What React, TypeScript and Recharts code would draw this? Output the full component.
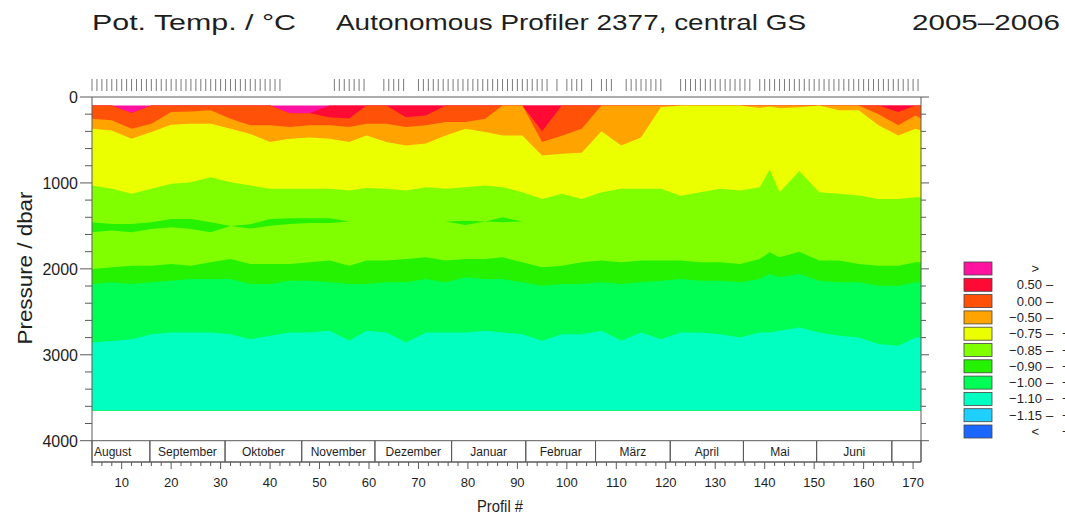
import { Area, ComposedChart, ReferenceArea, XAxis, YAxis } from "recharts";

const FONT = "'Liberation Sans', Arial, sans-serif";
const AXIS_COLOR = "#5a5a5a";
const TEXT_COLOR = "#1e1e1e";

// plot frame (page pixels)
const PLOT_LEFT = 92;
const PLOT_RIGHT = 921;
const PLOT_TOP = 97;
const PLOT_BOTTOM = 462;

const X_MIN = 4;
const X_MAX = 171.6;
const Y_MAX = 4248; // bottom of month band
const DATA_TOP = 100;
const DATA_BOTTOM = 3650;

// profile numbers where the boundaries were read
const PROFILES = [4, 8, 12, 16, 20, 24, 28, 32, 36, 40, 44, 48, 52, 56,
  59.5, 63.5, 67.5, 71.5, 75.5, 79.5, 83.5,
  87, 91, 95, 99, 103, 107, 111, 115, 119, 123, 127, 131, 135, 139,
  141, 143,
  147, 151, 155, 159, 163, 167,
  170.5, 171.6];

// depth (dbar) of the lower edge of each temperature class
const PINK_BOTTOM = [100, 100, 185, 100, 100, 100, 100, 100, 100, 100, 190, 190, 100, 100,
  100, 100, 100, 100, 100, 100, 100,
  100, 100, 100, 100, 100, 100, 100, 100, 100, 100, 100, 100, 100, 100,
  100, 100,
  100, 100, 100, 100, 100, 100,
  100, 100];
const RED_BOTTOM = [100, 100, 185, 100, 100, 100, 100, 100, 100, 100, 190, 190, 235, 250,
  100, 100, 235, 215, 100, 100, 100,
  100, 100, 400, 100, 100, 100, 100, 100, 100, 100, 100, 100, 100, 100,
  100, 100,
  100, 100, 100, 100, 100, 175,
  100, 100];
const ORED_BOTTOM = [253, 272, 370, 311, 175, 170, 155, 253, 330, 330, 350, 330, 330, 350,
  310, 311, 350, 330, 292, 292, 253,
  100, 100, 525, 450, 370, 100, 100, 100, 100, 100, 100, 100, 100, 100,
  100, 100,
  100, 100, 100, 100, 200, 330,
  214, 250];
const ORANGE_BOTTOM = [370, 389, 486, 408, 323, 310, 310, 370, 430, 525, 486, 470, 486, 525,
  447, 525, 564, 540, 447, 370, 408,
  447, 447, 680, 660, 650, 400, 564, 470, 120, 100, 100, 100, 100, 128,
  110, 130,
  120, 100, 155, 155, 330, 447,
  370, 390];
const YELLOW_BOTTOM = [1030, 1069, 1127, 1069, 1010, 991, 933, 991, 1030, 1069, 1069, 1069, 1069, 1088,
  1060, 1069, 1088, 1050, 1069, 1050, 1030,
  1050, 1108, 1186, 1127, 1186, 1108, 1069, 1069, 1069, 1150, 1108, 1069, 1088, 1050,
  845, 1108,
  860, 1108, 1127, 1147, 1186, 1186,
  1166, 1166];
const PATCH_TOP = [1458, 1477, 1477, 1458, 1419, 1419, 1458, 1500, 1480, 1419, 1411, 1411, 1411, 1450,
  1450, 1450, 1450, 1450, 1450, 1440, 1450,
  1400, 1450, 1450, 1450, 1450, 1450, 1450, 1450, 1450, 1450, 1450, 1450, 1450, 1450,
  1450, 1450,
  1450, 1450, 1450, 1450, 1450, 1450,
  1450, 1450];
const PATCH_BOTTOM = [1574, 1555, 1574, 1535, 1516, 1535, 1574, 1500, 1530, 1497, 1477, 1466, 1466, 1450,
  1450, 1450, 1450, 1450, 1450, 1490, 1450,
  1458, 1450, 1450, 1450, 1450, 1450, 1450, 1450, 1450, 1450, 1450, 1450, 1450, 1450,
  1450, 1450,
  1450, 1450, 1450, 1450, 1450, 1450,
  1450, 1450];
const LIME_BOTTOM = [2002, 1982, 1963, 1963, 1943, 1963, 1924, 1885, 1943, 1943, 1943, 1924, 1904, 1963,
  1904, 1904, 1885, 1866, 1904, 1885, 1885,
  1866, 1924, 1982, 1963, 1924, 1904, 1924, 1904, 1904, 1904, 1924, 1924, 1943, 1885,
  1808, 1866,
  1800, 1904, 1904, 1943, 1963, 1963,
  1924, 1924];
const GREEN_BOTTOM = [2177, 2157, 2177, 2157, 2138, 2118, 2118, 2118, 2177, 2177, 2138, 2138, 2157, 2177,
  2177, 2157, 2157, 2118, 2157, 2099, 2118,
  2118, 2157, 2196, 2177, 2177, 2157, 2177, 2157, 2138, 2118, 2138, 2138, 2157, 2118,
  2060, 2099,
  2060, 2138, 2157, 2157, 2196, 2196,
  2157, 2157];
const SPRING_BOTTOM = [2857, 2840, 2818, 2760, 2740, 2740, 2740, 2760, 2818, 2779, 2740, 2740, 2721, 2837,
  2721, 2740, 2857, 2740, 2740, 2740, 2721,
  2740, 2760, 2837, 2760, 2760, 2721, 2837, 2740, 2818, 2740, 2740, 2760, 2798, 2740,
  2740, 2721,
  2682, 2740, 2779, 2798, 2876, 2896,
  2798, 2798];

// profiles that exist (markers above the plot)
const PROFILE_RUNS: [number, number][] = [[4, 42], [53, 59], [63, 67], [70, 96], [98, 98], [100, 103],
  [105, 105], [107, 109], [112, 119], [123, 137], [139, 171]];

const MONTH_NAMES = ["August", "September", "Oktober", "November", "Dezember", "Januar",
  "Februar", "März", "April", "Mai", "Juni", ""];
const MONTH_STARTS = [4, 15.7, 30.9, 46.4, 61.2, 76.7, 91.7, 105.8, 120.9, 135.7, 150.5, 165.7];

const Y_TICKS = [0, 200, 400, 600, 800, 1000, 1200, 1400, 1600, 1800, 2000, 2200, 2400, 2600,
  2800, 3000, 3200, 3400, 3600, 3800, 4000];

const C = {
  pink: "#ff12a0", red: "#ff0a35", ored: "#ff5208", orange: "#ffa300", yellow: "#ebff00",
  lime: "#80ff00", green: "#25f200", spring: "#00ff55", aqua: "#00ffc0", cyan: "#1ecfff", blue: "#1a66ff",
};

const LEGEND_COLORS = [C.pink, C.red, C.ored, C.orange, C.yellow, C.lime, C.green, C.spring, C.aqua, C.cyan, C.blue];
const LEGEND_LOWER = [">", "0.50", "0.00", "−0.50", "−0.75", "−0.85", "−0.90", "−1.00", "−1.10", "−1.15", "<"];
const LEGEND_UPPER = ["1.00", "1.00", "0.50", "0.00", "−0.50", "−0.75", "−0.85", "−0.90", "−1.00", "−1.10", "−1.15"];

const X_TICKS: number[] = [];
for (let p = 4; p <= 170; p += 2) X_TICKS.push(p);

const PRESENT: number[] = [];
PROFILE_RUNS.forEach(([a, b]) => { for (let p = a; p <= b; p++) PRESENT.push(p); });

const rows = PROFILES.map((p, i) => ({
  p,
  pink: [DATA_TOP, DATA_BOTTOM],
  red: [PINK_BOTTOM[i], DATA_BOTTOM],
  ored: [RED_BOTTOM[i], DATA_BOTTOM],
  orange: [ORED_BOTTOM[i], DATA_BOTTOM],
  yellow: [ORANGE_BOTTOM[i], DATA_BOTTOM],
  lime: [YELLOW_BOTTOM[i], DATA_BOTTOM],
  patch: [PATCH_TOP[i], PATCH_BOTTOM[i]],
  green: [LIME_BOTTOM[i], DATA_BOTTOM],
  spring: [GREEN_BOTTOM[i], DATA_BOTTOM],
  aqua: [SPRING_BOTTOM[i], DATA_BOTTOM],
}));

const LAYERS: [string, string][] = [["pink", C.pink], ["red", C.red], ["ored", C.ored], ["orange", C.orange],
  ["yellow", C.yellow], ["lime", C.lime], ["patch", C.green], ["green", C.green], ["spring", C.spring], ["aqua", C.aqua]];

const BottomTick = (props: any) => {
  const { x, payload } = props;
  const major = payload.value % 10 === 0;
  return (
    <g>
      <line x1={x} x2={x} y1={PLOT_BOTTOM} y2={PLOT_BOTTOM + (major ? 7 : 4)} stroke={AXIS_COLOR} />
      {major && (
        <text x={x} y={487} textAnchor="middle" fontSize={13} fontFamily={FONT} fill={TEXT_COLOR}>{payload.value}</text>
      )}
    </g>
  );
};

const TopTick = (props: any) => {
  const { x } = props;
  return <line x1={x} x2={x} y1={79} y2={91} stroke="#7a7a7a" />;
};

const LeftTick = (props: any) => {
  const { y, payload } = props;
  const major = payload.value % 1000 === 0;
  return (
    <g>
      <line x1={PLOT_LEFT - (major ? 12 : 7)} x2={PLOT_LEFT} y1={y} y2={y} stroke={AXIS_COLOR} />
      {major && (
        <text x={78} y={y + 6} textAnchor="end" fontSize={16} fontFamily={FONT} fill={TEXT_COLOR}>{payload.value}</text>
      )}
    </g>
  );
};

const RightTick = (props: any) => {
  const { y, payload } = props;
  const major = payload.value % 1000 === 0;
  return <line x1={PLOT_RIGHT} x2={PLOT_RIGHT + (major ? 8 : 5)} y1={y} y2={y} stroke={AXIS_COLOR} />;
};

export default function App() {
  return (
    <div style={{ position: "absolute", left: 0, top: 0, width: 1065, height: 515, background: "#fff", overflow: "hidden" }}>
      <ComposedChart width={1065} height={515} data={rows}
        margin={{ top: PLOT_TOP - 20, right: 1065 - PLOT_RIGHT - 20, bottom: 515 - PLOT_BOTTOM - 40, left: PLOT_LEFT - 80 }}>
        <XAxis xAxisId="bottom" dataKey="p" type="number" domain={[X_MIN, X_MAX]} allowDataOverflow
          ticks={X_TICKS} interval={0} tick={BottomTick} tickLine={false} axisLine={{ stroke: AXIS_COLOR }} height={40} />
        <XAxis xAxisId="top" orientation="top" dataKey="p" type="number" domain={[X_MIN, X_MAX]} allowDataOverflow
          ticks={PRESENT} interval={0} tick={TopTick} tickLine={false} axisLine={{ stroke: AXIS_COLOR }} height={20} />
        <YAxis yAxisId="left" type="number" domain={[0, Y_MAX]} reversed allowDataOverflow
          ticks={Y_TICKS} interval={0} tick={LeftTick} tickLine={false} axisLine={{ stroke: AXIS_COLOR }} width={80} />
        <YAxis yAxisId="right" orientation="right" type="number" domain={[0, Y_MAX]} reversed allowDataOverflow
          ticks={Y_TICKS} interval={0} tick={RightTick} tickLine={false} axisLine={{ stroke: AXIS_COLOR }} width={20} />

        {MONTH_STARTS.map((start, i) => (
          <ReferenceArea key={i} xAxisId="bottom" yAxisId="left"
            x1={start} x2={i + 1 < MONTH_STARTS.length ? MONTH_STARTS[i + 1] : X_MAX}
            y1={4000} y2={Y_MAX} fill="none" fillOpacity={0} stroke={AXIS_COLOR} strokeWidth={1}
            label={{ value: MONTH_NAMES[i], position: i === 0 ? "insideLeft" : "center", offset: 2,
              fontSize: 12, fill: TEXT_COLOR, fontFamily: FONT }} />
        ))}

        {LAYERS.map(([key, color]) => (
          <Area key={key} xAxisId="bottom" yAxisId="left" dataKey={key} type="linear"
            fill={color} fillOpacity={1} stroke="none" dot={false} activeDot={false} isAnimationActive={false} />
        ))}
      </ComposedChart>

      <svg width={1065} height={515} style={{ position: "absolute", left: 0, top: 0, pointerEvents: "none" }}
        fontFamily={FONT} fill={TEXT_COLOR}>
        <text x={92} y={30} fontSize={22} textLength={204} lengthAdjust="spacingAndGlyphs">Pot. Temp. / °C</text>
        <text x={336} y={30} fontSize={22} textLength={470} lengthAdjust="spacingAndGlyphs">Autonomous Profiler 2377, central GS</text>
        <text x={912} y={30} fontSize={22} textLength={148} lengthAdjust="spacingAndGlyphs">2005–2006</text>

        <text transform="translate(32,268) rotate(-90)" textAnchor="middle" fontSize={20} textLength={153}
          lengthAdjust="spacingAndGlyphs">Pressure / dbar</text>
        <text x={500} y={512} textAnchor="middle" fontSize={17} textLength={46} lengthAdjust="spacingAndGlyphs">Profil #</text>

        {LEGEND_COLORS.map((color, i) => {
          const top = 262 + i * 16.3;
          const base = top + 11;
          const bound = i === 0 || i === LEGEND_COLORS.length - 1;
          return (
            <g key={i}>
              <rect x={964} y={top} width={28} height={13} fill={color} stroke="#444" strokeWidth={0.8} />
              <text x={bound ? 1039 : 1042} y={base} textAnchor="end" fontSize={13}>{LEGEND_LOWER[i]}</text>
              {!bound && <text x={1046} y={base} fontSize={13}>–</text>}
              <text x={1095} y={base} textAnchor="end" fontSize={13}>{LEGEND_UPPER[i]}</text>
            </g>
          );
        })}
      </svg>
    </div>
  );
}
